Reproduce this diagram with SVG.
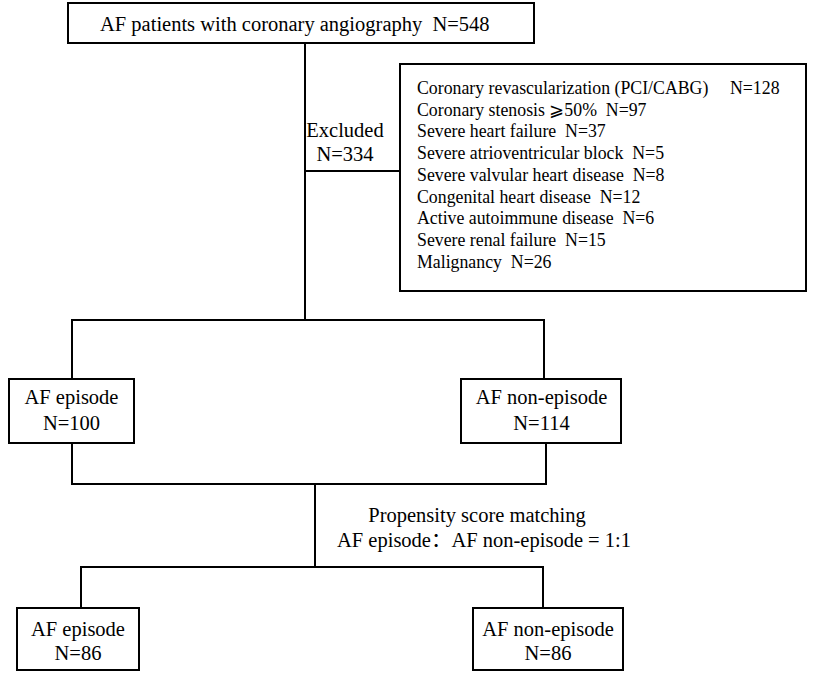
<svg xmlns="http://www.w3.org/2000/svg" width="829" height="673" viewBox="0 0 829 673">
<style>
.box{fill:#fff;stroke:#000;stroke-width:2}
.ln{fill:none;stroke:#000;stroke-width:2}
text{font-family:"Liberation Serif","Noto Sans CJK SC",serif;fill:#000;white-space:pre}
.t20{font-size:20.5px}
.t17{font-size:17.8px}
.c{text-anchor:middle}
</style>
<rect width="829" height="673" fill="#fff"/>
<g id="connectors">
<path class="ln" d="M305,43 V320 M305,171 H400 M72,379 V320 H544 V379"/>
<path class="ln" d="M72,441 V484 H546 V441 M315,484 V567 M81,608 V567 H543 V608"/>
</g>
<g id="n-total">
<rect class="box" x="68" y="3" width="466" height="40"/>
<text class="t20" x="100" y="31">AF patients with coronary angiography  N=548</text>
</g>
<g id="n-excluded-label">
<text class="t20 c" x="345" y="137">Excluded</text>
<text class="t20 c" x="345" y="161">N=334</text>
</g>
<g id="n-exclusions">
<rect class="box" x="400" y="64" width="406" height="227"/>
<text class="t17" x="417" y="94">Coronary revascularization (PCI/CABG)</text>
<text class="t17" x="730" y="94">N=128</text>
<text class="t17" x="417" y="115.7">Coronary stenosis ⩾50%  N=97</text>
<text class="t17" x="417" y="137.4">Severe heart failure  N=37</text>
<text class="t17" x="417" y="159.1">Severe atrioventricular block  N=5</text>
<text class="t17" x="417" y="180.8">Severe valvular heart disease  N=8</text>
<text class="t17" x="417" y="202.5">Congenital heart disease  N=12</text>
<text class="t17" x="417" y="224.2">Active autoimmune disease  N=6</text>
<text class="t17" x="417" y="245.9">Severe renal failure  N=15</text>
<text class="t17" x="417" y="267.6">Malignancy  N=26</text>
</g>
<g id="n-af-episode">
<rect class="box" x="9" y="379" width="125" height="64"/>
<text class="t20 c" x="71.5" y="404">AF episode</text>
<text class="t20 c" x="71.5" y="430">N=100</text>
</g>
<g id="n-af-nonepisode">
<rect class="box" x="461" y="379" width="160" height="64"/>
<text class="t20 c" x="541.5" y="404">AF non-episode</text>
<text class="t20 c" x="541.5" y="430">N=114</text>
</g>
<g id="n-psm-label">
<text class="t20 c" x="477" y="522">Propensity score matching</text>
<text class="t20 c" x="484" y="547">AF episode：AF non-episode = 1:1</text>
</g>
<g id="n-af-episode-matched">
<rect class="box" x="17" y="608" width="122" height="62"/>
<text class="t20 c" x="78" y="636">AF episode</text>
<text class="t20 c" x="78" y="660">N=86</text>
</g>
<g id="n-af-nonepisode-matched">
<rect class="box" x="473" y="608" width="150" height="62"/>
<text class="t20 c" x="548" y="636">AF non-episode</text>
<text class="t20 c" x="548" y="660">N=86</text>
</g>
</svg>
